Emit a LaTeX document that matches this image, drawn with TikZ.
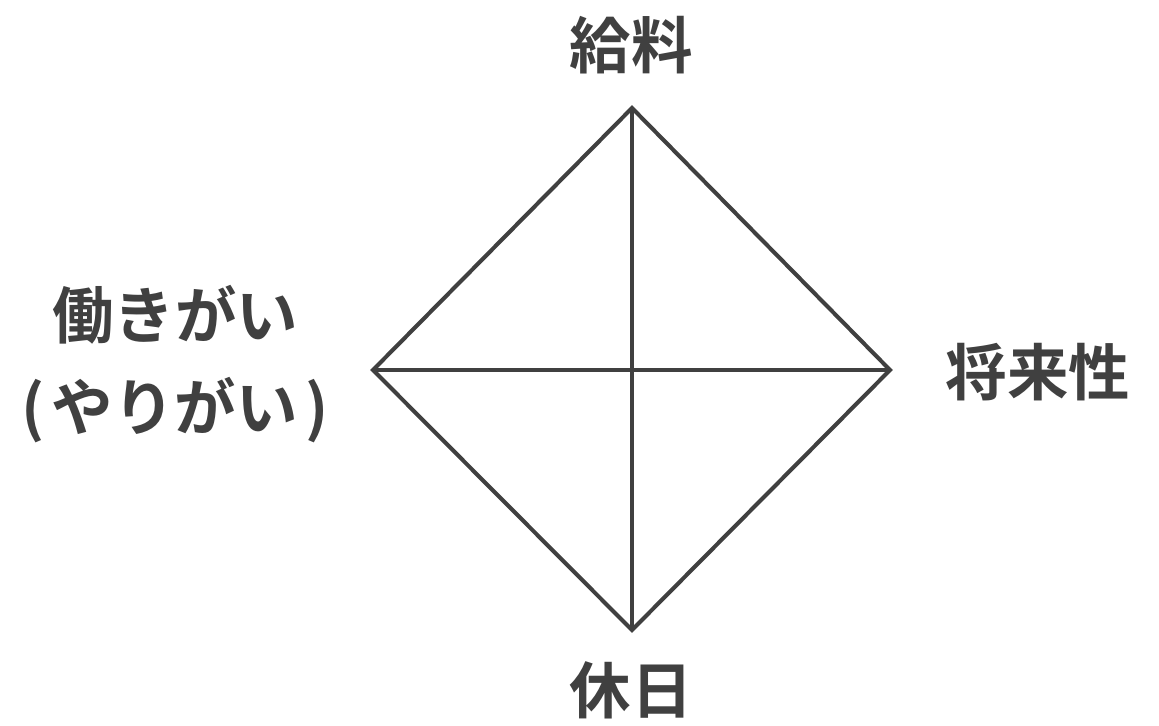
\documentclass[tikz,border=0pt]{standalone}
\usepackage{fontspec}
\newfontfamily\jp{Noto Sans CJK JP}[BoldFont={Noto Sans CJK JP Bold}]
\begin{document}
\begin{tikzpicture}[x=0.02cm,y=-0.02cm,
  edge/.style={draw={rgb,255:red,64;green,64;blue,64},line width=2.3pt,line join=miter},
  lab/.style={font=\jp\bfseries\fontsize{35}{52}\selectfont,text={rgb,255:red,64;green,64;blue,64},inner sep=0pt,align=center}]
\useasboundingbox (0,0) rectangle (1159,725);
\coordinate (t) at (632,108);
\coordinate (b) at (632,630);
\coordinate (l) at (373,370);
\coordinate (r) at (890,370);
\draw[edge] (t) -- (r) -- (b) -- (l) -- cycle;
\draw[edge] (t) -- (b);
\draw[edge] (l) -- (r);
\node[lab] (nt) at (631,45) {給料};
\node[lab] (nb) at (631,690) {休日};
\node[lab] (nr) at (1038,372) {将来性};
\node[lab,align=center] (nl) at (175,364) {働きがい\\(\kern0.12em やりがい\kern0.12em)};
\end{tikzpicture}
\end{document}
